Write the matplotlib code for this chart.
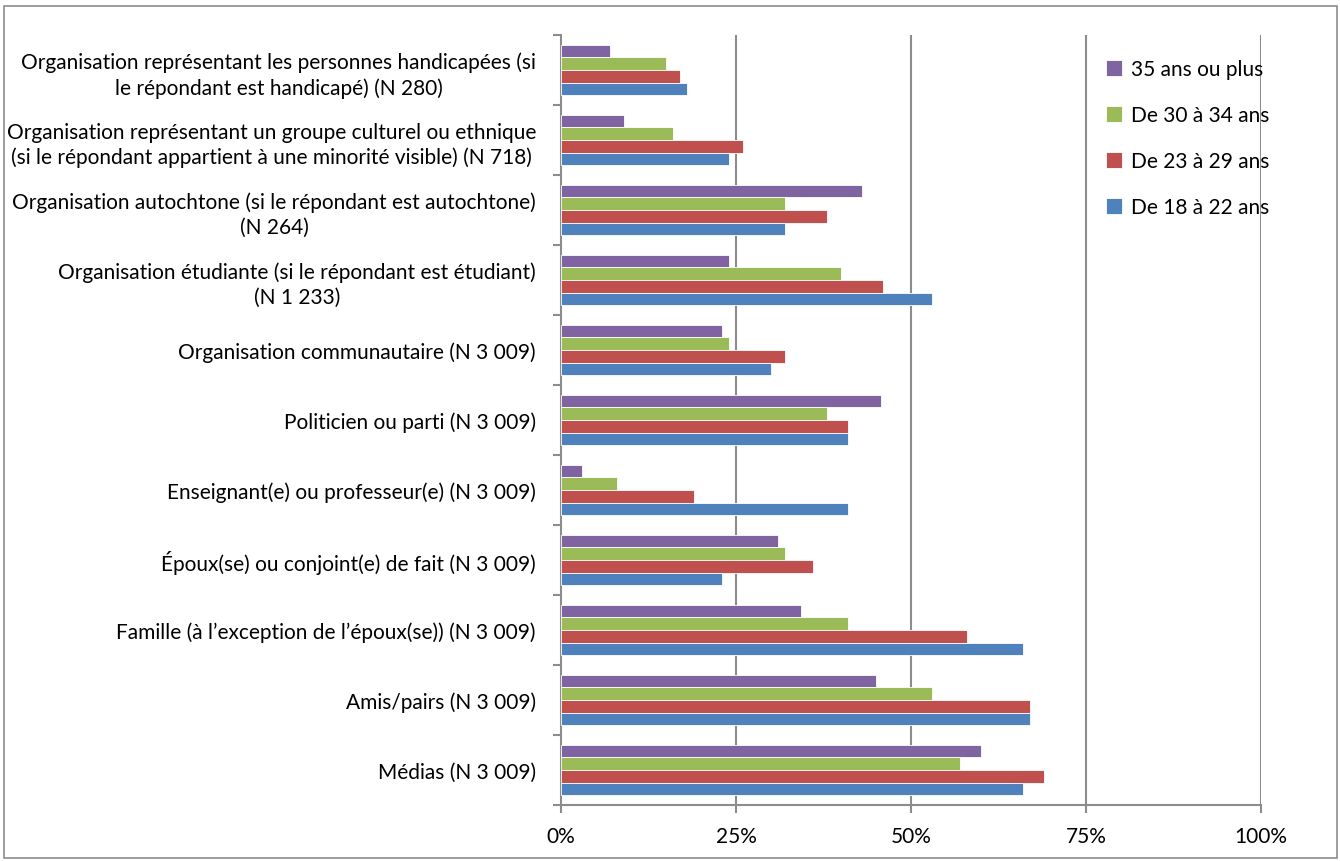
import numpy as np
import matplotlib.pyplot as plt
from matplotlib.patches import Rectangle

# === DATA (top category first) ===
CATEGORIES = [
    "Organisation représentant les personnes handicapées (si\nle répondant est handicapé) (N 280)",
    "Organisation représentant un groupe culturel ou ethnique\n(si le répondant appartient à une minorité visible) (N 718)",
    "Organisation autochtone (si le répondant est autochtone)\n(N 264)",
    "Organisation étudiante (si le répondant est étudiant)\n(N 1 233)",
    "Organisation communautaire (N 3 009)",
    "Politicien ou parti (N 3 009)",
    "Enseignant(e) ou professeur(e) (N 3 009)",
    "Époux(se) ou conjoint(e) de fait (N 3 009)",
    "Famille (à l’exception de l’époux(se)) (N 3 009)",
    "Amis/pairs (N 3 009)",
    "Médias (N 3 009)",
]

SERIES_LABELS = ["35 ans ou plus", "De 30 à 34 ans", "De 23 à 29 ans", "De 18 à 22 ans"]

AGE_35_PLUS = [7, 9, 43, 24, 23, 45.7, 3, 31, 34.3, 45, 60]
AGE_30_34 = [15, 16, 32, 40, 24, 38, 8, 32, 41, 53, 57]
AGE_23_29 = [17, 26, 38, 46, 32, 41, 19, 36, 58, 67, 69]
AGE_18_22 = [18, 24, 32, 53, 30, 41, 41, 23, 66, 67, 66]

COLORS = ["#8064A2", "#9BBB59", "#C0504D", "#4F81BD"]
X_TICKS = [0, 25, 50, 75, 100]
X_TICK_LABELS = ["0%", "25%", "50%", "75%", "100%"]

plt.rcParams["font.family"] = ["Lato", "DejaVu Sans"]
FS = 15
GRID = "#8C8C8C"

fig = plt.figure(figsize=(13.4, 8.62), dpi=100)
ax = fig.add_axes([561 / 1340, 56 / 862, 700 / 1340, 770 / 862])

n = len(CATEGORIES)
centers = np.arange(n)[::-1]  # top category at highest y
bar_h = 0.182
series = [AGE_35_PLUS, AGE_30_34, AGE_23_29, AGE_18_22]
for i, (vals, lab, col) in enumerate(zip(series, SERIES_LABELS, COLORS)):
    offset = (1.5 - i) * bar_h
    ax.barh(centers + offset, vals, height=bar_h, color=col, label=lab,
            edgecolor="white", linewidth=0.6, zorder=3)

ax.set_xlim(0, 100)
ax.set_ylim(-0.5, n - 0.5)

# gridlines
for xv in X_TICKS[1:]:
    ax.axvline(xv, color=GRID, linewidth=1.5, zorder=1)

ax.set_xticks(X_TICKS)
ax.set_xticklabels(X_TICK_LABELS, fontsize=FS)
ax.tick_params(axis="x", direction="out", length=6, width=1.5, color=GRID, pad=9)

ax.set_yticks(centers)
ax.set_yticklabels(CATEGORIES, fontsize=FS, multialignment="center",
                   linespacing=1.3)
ax.tick_params(axis="y", which="major", length=0, pad=18)
ax.set_yticks(np.arange(-0.5, n, 1.0), minor=True)
ax.tick_params(axis="y", which="minor", direction="out", length=6, width=1.5, color=GRID)

for side in ["top", "right"]:
    ax.spines[side].set_visible(False)
for side in ["left", "bottom"]:
    ax.spines[side].set_color(GRID)
    ax.spines[side].set_linewidth(1.5)

leg = ax.legend(loc="upper left", bbox_to_anchor=(0.752, 0.993), frameon=False,
                fontsize=FS, handlelength=0.75, handleheight=0.75,
                labelspacing=1.25, handletextpad=0.45)

# outer chart frame
fig.patches.append(Rectangle((4 / 1340, 3 / 862), 1333 / 1340, 852 / 862,
                             transform=fig.transFigure, fill=False,
                             edgecolor="#8C8C8C", linewidth=1.2))

fig.savefig("out.png", dpi=100)
